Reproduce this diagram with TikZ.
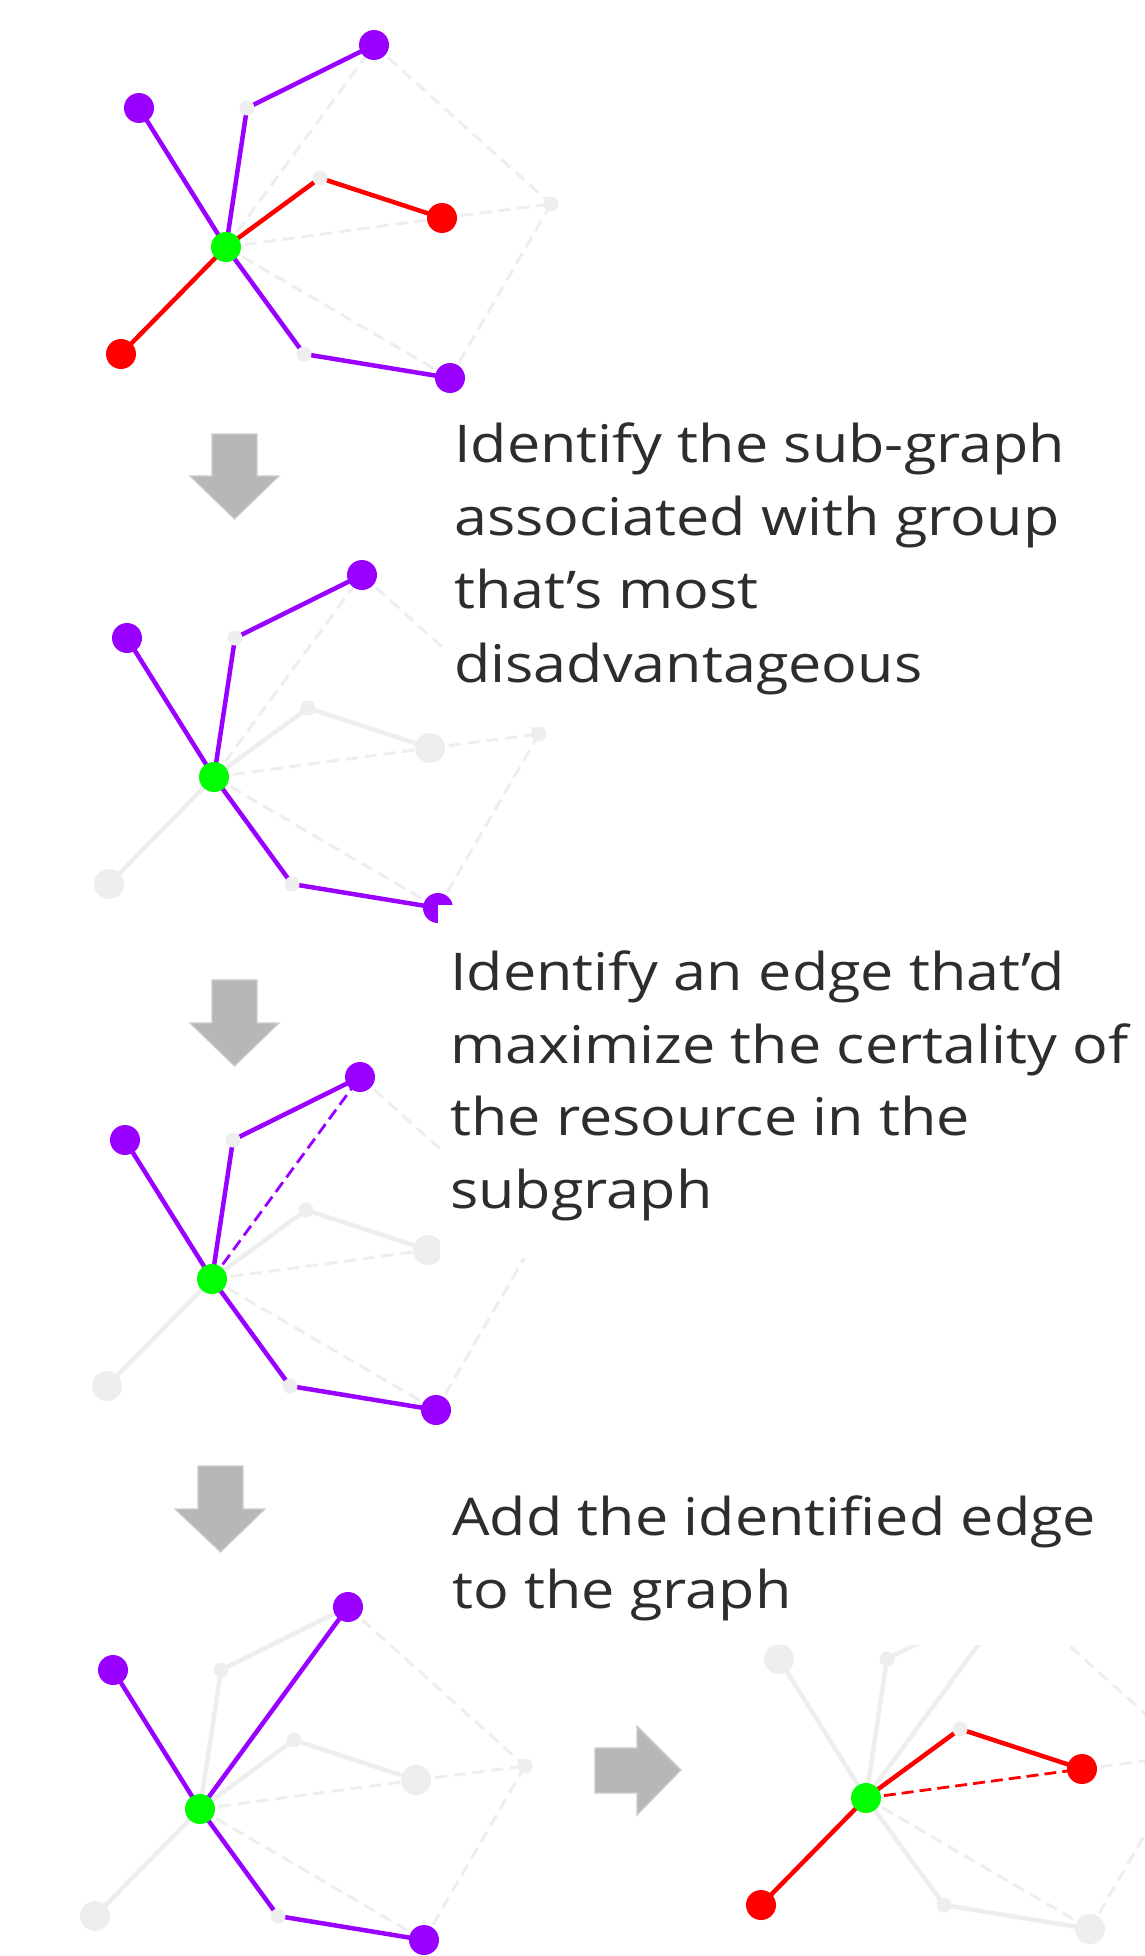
\documentclass[tikz,border=0pt]{standalone}
\usepackage{fontspec}
\newfontfamily\osans{Open Sans}[FakeStretch=1.14]
\definecolor{vio}{RGB}{153,0,255}
\definecolor{rd}{RGB}{255,0,0}
\definecolor{gr}{RGB}{0,255,0}
\definecolor{lg}{RGB}{238,238,238}
\definecolor{arrfill}{RGB}{183,183,183}
\definecolor{arrline}{RGB}{205,205,205}
\definecolor{txt}{RGB}{45,45,45}
\pgfdeclarelayer{bg}
\pgfdeclarelayer{paper}
\pgfsetlayers{paper,bg,main}
\newcommand\mkgraph[8]{%
  \begin{scope}[shift={(#2,#3)}]
    \node[big,fill=gr] (#1G) at (0,0) {};
    \node[big,fill=#4] (#1TL) at (-87,-139) {};
    \node[small] (#1ga) at (21,-139) {};
    \node[big,fill=#5] (#1PT) at (148,-202) {};
    \node[small] (#1gb) at (94,-69) {};
    \node[big,fill=#6] (#1RR) at (216,-29) {};
    \node[small] (#1F) at (325,-43) {};
    \node[big,fill=#7] (#1BL) at (-105,107) {};
    \node[small] (#1gc) at (78,107) {};
    \node[big,fill=#8] (#1BR) at (224,131) {};
  \end{scope}}
\newcommand\ed[3]{\draw[#1] (#2.center) -- (#3.center);}
\begin{document}
\begin{tikzpicture}[x=1pt,y=-1pt,
  big/.style={circle,minimum size=30pt,inner sep=0pt,draw=none},
  small/.style={circle,minimum size=15pt,inner sep=0pt,draw=none,fill=lg},
  pe/.style={draw=vio,line width=4.5pt},
  re/.style={draw=rd,line width=4.5pt},
  ge/.style={draw=lg,line width=4.5pt},
  gd/.style={draw=lg,line width=3pt,dash pattern=on 12pt off 7pt},
  pd/.style={draw=vio,line width=2.8pt,dash pattern=on 12pt off 6pt},
  rdash/.style={draw=rd,line width=2.8pt,dash pattern=on 12pt off 6pt},
  mask/.style={fill=white,draw=none},
  bigarrow/.style={fill=arrfill,draw=arrline,line width=1.2pt,line join=miter},
  tx/.style={anchor=base west,inner sep=0pt,text=txt,font=\osans\fontsize{52}{73}\selectfont}]
\begin{pgfonlayer}{paper}
  \fill[white] (0,0) rectangle (1145,1956);
\end{pgfonlayer}
\useasboundingbox (0,0) rectangle (1145,1956);

% ---------- graph 1 ----------
\mkgraph{a}{226}{247}{vio}{vio}{rd}{rd}{vio}
\begin{pgfonlayer}{bg}
  \ed{gd}{aG}{aPT}\ed{gd}{aPT}{aF}\ed{gd}{aG}{aRR}\ed{gd}{aRR}{aF}\ed{gd}{aF}{aBR}\ed{gd}{aG}{aBR}
  \ed{pe}{aG}{aTL}\ed{pe}{aG}{aga}\ed{pe}{aga}{aPT}\ed{pe}{aG}{agc}\ed{pe}{agc}{aBR}
  \ed{re}{aG}{agb}\ed{re}{agb}{aRR}\ed{re}{aG}{aBL}
\end{pgfonlayer}

% ---------- graph 2 ----------
\mkgraph{b}{214}{777}{vio}{vio}{lg}{lg}{vio}
\begin{pgfonlayer}{bg}
  \ed{gd}{bG}{bPT}\ed{gd}{bPT}{bF}\ed{gd}{bG}{bRR}\ed{gd}{bRR}{bF}\ed{gd}{bF}{bBR}\ed{gd}{bG}{bBR}
  \ed{ge}{bG}{bgb}\ed{ge}{bgb}{bRR}\ed{ge}{bG}{bBL}
  \ed{pe}{bG}{bTL}\ed{pe}{bG}{bga}\ed{pe}{bga}{bPT}\ed{pe}{bG}{bgc}\ed{pe}{bgc}{bBR}
\end{pgfonlayer}

% ---------- graph 3 ----------
\mkgraph{c}{212}{1279}{vio}{vio}{lg}{lg}{vio}
\begin{pgfonlayer}{bg}
  \ed{gd}{cPT}{cF}\ed{gd}{cG}{cRR}\ed{gd}{cRR}{cF}\ed{gd}{cF}{cBR}\ed{gd}{cG}{cBR}
  \ed{ge}{cG}{cgb}\ed{ge}{cgb}{cRR}\ed{ge}{cG}{cBL}
  \ed{pe}{cG}{cTL}\ed{pe}{cG}{cga}\ed{pe}{cga}{cPT}\ed{pe}{cG}{cgc}\ed{pe}{cgc}{cBR}
  \ed{pd}{cG}{cPT}
\end{pgfonlayer}

% ---------- graph 4 ----------
\mkgraph{d}{200}{1809}{vio}{vio}{lg}{lg}{vio}
\begin{pgfonlayer}{bg}
  \ed{gd}{dPT}{dF}\ed{gd}{dG}{dRR}\ed{gd}{dRR}{dF}\ed{gd}{dF}{dBR}\ed{gd}{dG}{dBR}
  \ed{ge}{dG}{dga}\ed{ge}{dga}{dPT}\ed{ge}{dG}{dgb}\ed{ge}{dgb}{dRR}\ed{ge}{dG}{dBL}
  \ed{pe}{dG}{dTL}\ed{pe}{dG}{dPT}\ed{pe}{dG}{dgc}\ed{pe}{dgc}{dBR}
\end{pgfonlayer}

% ---------- graph 5 ----------
\mkgraph{e}{866}{1798}{lg}{lg}{rd}{rd}{lg}
\begin{pgfonlayer}{bg}
  \ed{gd}{ePT}{eF}\ed{gd}{eRR}{eF}\ed{gd}{eF}{eBR}\ed{gd}{eG}{eBR}
  \ed{ge}{eG}{eTL}\ed{ge}{eG}{ega}\ed{ge}{ega}{ePT}\ed{ge}{eG}{ePT}\ed{ge}{eG}{egc}\ed{ge}{egc}{eBR}
  \ed{re}{eG}{egb}\ed{re}{egb}{eRR}\ed{re}{eG}{eBL}
  \ed{rdash}{eG}{eRR}
\end{pgfonlayer}

% ---------- masks (text panels over the graphs) ----------
\fill[mask] (446,395) rectangle (1145,727);
\fill[mask] (437.5,905) rectangle (470,940);
\fill[mask] (440,930) rectangle (1145,1258);
\fill[mask] (700,1560) rectangle (1145,1645);

% ---------- arrows ----------
\path[bigarrow] (212,434) -- (257,434) -- (257,476) -- (279,476) -- (234.5,519) -- (190,476) -- (212,476) -- cycle;
\path[bigarrow] (212,980) -- (257,980) -- (257,1023) -- (279,1023) -- (234.5,1066) -- (190,1023) -- (212,1023) -- cycle;
\path[bigarrow] (198,1466) -- (243,1466) -- (243,1509) -- (265,1509) -- (220.5,1552) -- (175,1509) -- (198,1509) -- cycle;
\path[bigarrow] (595,1748) -- (637,1748) -- (637,1726) -- (681,1770) -- (637,1815) -- (637,1793) -- (595,1793) -- cycle;

% ---------- texts ----------
\node[tx] (t1a) at (454,462) {Identify the sub-graph};
\node[tx] (t1b) at (454,535) {associated with group};
\node[tx] (t1c) at (454,608) {that’s most};
\node[tx] (t1d) at (454,682) {disadvantageous};

\node[tx] (t2a) at (450,990) {Identify an edge that’d};
\node[tx] (t2b) at (450,1063) {maximize the certality of};
\node[tx] (t2c) at (450,1135) {the resource in the};
\node[tx] (t2d) at (450,1208) {subgraph};

\node[tx] (t3a) at (452,1535) {Add the identified edge};
\node[tx] (t3b) at (452,1608) {to the graph};
\end{tikzpicture}
\end{document}
